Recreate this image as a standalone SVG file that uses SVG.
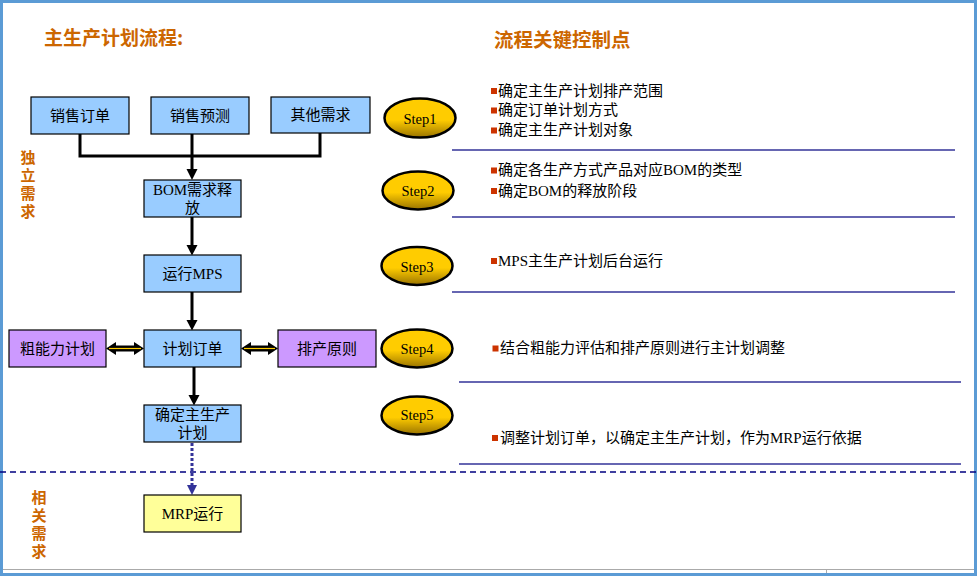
<svg xmlns="http://www.w3.org/2000/svg" width="978" height="576" viewBox="0 0 978 576">
<style>
.box{stroke:#000;stroke-width:1.2}
.blue{fill:#99CCFF}
.purple{fill:#CC99FF}
.yellow{fill:#FFFF99}
.t{font-family:"Liberation Serif","Noto Sans CJK SC",serif;font-size:15px;fill:#000;text-anchor:middle;dominant-baseline:central}
.title{font-family:"Noto Sans CJK SC",sans-serif;font-weight:bold;fill:#CC6600}
.side{font-family:"Noto Sans CJK SC",sans-serif;font-weight:bold;font-size:15px;fill:#CC6600;writing-mode:vertical-rl;letter-spacing:3px}
.step{font-family:"Liberation Serif",serif;font-size:14.5px;fill:#000;text-anchor:middle;dominant-baseline:central}
.bt{font-family:"Liberation Serif","Noto Sans CJK SC",serif;font-size:15px;fill:#000;dominant-baseline:central}
.bul{fill:#CC3300}
.sep{stroke:#333399;stroke-width:1.5}
.ell{fill:url(#gold);stroke:#000;stroke-width:2.5}
.ln{fill:none;stroke:#000;stroke-width:3}
</style>
<defs>
<linearGradient id="gold" x1="0" y1="0" x2="0" y2="1">
<stop offset="0" stop-color="#FFCC00"/>
<stop offset="0.55" stop-color="#FFCC00"/>
<stop offset="1" stop-color="#9A7400"/>
</linearGradient>
</defs>
<rect x="0" y="0" width="978" height="576" fill="#fff"/>
<line x1="0" y1="569.5" x2="975" y2="569.5" stroke="#AAAAAA" stroke-width="1"/>
<line x1="826.5" y1="569.5" x2="826.5" y2="574" stroke="#AAAAAA" stroke-width="1"/>
<rect x="1.5" y="1.5" width="974" height="573" fill="none" stroke="#5B9BD5" stroke-width="3"/>

<text class="title" x="44" y="45" font-size="19">主生产计划流程:</text>
<text class="title" x="494" y="47" font-size="19.5">流程关键控制点</text>

<g id="label-independent">
<text class="side" x="28" y="149.5">独立需求</text>
</g>
<g id="label-dependent">
<text class="side" x="39" y="489.5">相关需求</text>
</g>

<line x1="0" y1="472" x2="976" y2="472" stroke="#000080" stroke-width="1.5" stroke-dasharray="6,4"/>

<g id="connectors">
<polyline class="ln" points="80,134 80,156 320,156 320,133"/>
<path d="M297,126 L292.5,133 L302,133 Z" fill="#000"/>
<line class="ln" x1="192" y1="134" x2="192" y2="170"/>
<path d="M186.5,169 L197.5,169 L192,180 Z" fill="#000"/>
<line class="ln" x1="192" y1="217" x2="192" y2="246"/>
<path d="M186.5,245 L197.5,245 L192,255.5 Z" fill="#000"/>
<line class="ln" x1="192" y1="292" x2="192" y2="321"/>
<path d="M186.5,320 L197.5,320 L192,330.5 Z" fill="#000"/>
<line class="ln" x1="194" y1="367" x2="194" y2="396"/>
<path d="M188.5,395 L199.5,395 L194,405.5 Z" fill="#000"/>
<line x1="192" y1="443" x2="192" y2="486" stroke="#333399" stroke-width="3" stroke-dasharray="3,2"/>
<path d="M187,485 L197,485 L192,495 Z" fill="#333399"/>
<g id="dbl-left">
<line x1="114" y1="348.5" x2="136" y2="348.5" stroke="#000" stroke-width="6"/>
<path d="M106,348.5 L116,342 L116,355 Z" fill="#000"/>
<path d="M144,348.5 L134,342 L134,355 Z" fill="#000"/>
<line x1="109" y1="348.5" x2="141" y2="348.5" stroke="#FFCC00" stroke-width="1.2"/>
</g>
<g id="dbl-right">
<line x1="249" y1="348.5" x2="270" y2="348.5" stroke="#000" stroke-width="6"/>
<path d="M241,348.5 L251,342 L251,355 Z" fill="#000"/>
<path d="M278,348.5 L268,342 L268,355 Z" fill="#000"/>
<line x1="244" y1="348.5" x2="275" y2="348.5" stroke="#FFCC00" stroke-width="1.2"/>
</g>
</g>

<g id="n-xsdd"><rect class="box blue" x="31" y="97" width="98" height="37"/><text class="t" x="80" y="115.5">销售订单</text></g>
<g id="n-xsyc"><rect class="box blue" x="151" y="97" width="98" height="37"/><text class="t" x="200" y="115.5">销售预测</text></g>
<g id="n-qtxq"><rect class="box blue" x="271" y="97" width="99" height="36"/><text class="t" x="320.5" y="115">其他需求</text></g>
<g id="n-bom"><rect class="box blue" x="144" y="180" width="97" height="37"/><text class="t" x="192.5" y="190">BOM需求释</text><text class="t" x="192.5" y="207.5">放</text></g>
<g id="n-mps"><rect class="box blue" x="144" y="255" width="97" height="37"/><text class="t" x="192.5" y="274">运行MPS</text></g>
<g id="n-jhdd"><rect class="box blue" x="144" y="330" width="97" height="37"/><text class="t" x="192.5" y="348.5">计划订单</text></g>
<g id="n-cnl"><rect class="box purple" x="9" y="330" width="97" height="37"/><text class="t" x="57.5" y="348.5">粗能力计划</text></g>
<g id="n-pcyz"><rect class="box purple" x="278" y="330" width="98" height="37"/><text class="t" x="327" y="348.5">排产原则</text></g>
<g id="n-qdzsc"><rect class="box blue" x="144" y="405" width="97" height="37"/><text class="t" x="192.5" y="414.5">确定主生产</text><text class="t" x="192.5" y="432.5">计划</text></g>
<g id="n-mrp"><rect class="box yellow" x="144" y="495" width="97" height="37"/><text class="t" x="192.5" y="514">MRP运行</text></g>

<g id="step1"><ellipse class="ell" cx="420" cy="118" rx="35.5" ry="19.5"/><text class="step" x="420" y="119">Step1</text></g>
<g id="step2"><ellipse class="ell" cx="418" cy="190.5" rx="35.5" ry="19"/><text class="step" x="418" y="191">Step2</text></g>
<g id="step3"><ellipse class="ell" cx="417" cy="266" rx="35.5" ry="19"/><text class="step" x="417" y="266.5">Step3</text></g>
<g id="step4"><ellipse class="ell" cx="417" cy="348.5" rx="35.5" ry="19"/><text class="step" x="417" y="349">Step4</text></g>
<g id="step5"><ellipse class="ell" cx="417" cy="415.5" rx="35.5" ry="19"/><text class="step" x="417" y="415">Step5</text></g>

<g id="separators">
<line class="sep" x1="452" y1="150" x2="955" y2="150"/>
<line class="sep" x1="452" y1="217" x2="955" y2="217"/>
<line class="sep" x1="452" y1="292" x2="955" y2="292"/>
<line class="sep" x1="459" y1="382" x2="961" y2="382"/>
<line class="sep" x1="459" y1="464" x2="961" y2="464"/>
</g>

<g id="points">
<rect class="bul" x="491" y="88" width="6" height="6"/><text class="bt" x="498" y="90.5">确定主生产计划排产范围</text>
<rect class="bul" x="491" y="107.5" width="6" height="6"/><text class="bt" x="498" y="110">确定订单计划方式</text>
<rect class="bul" x="491" y="127.5" width="6" height="6"/><text class="bt" x="498" y="130">确定主生产计划对象</text>
<rect class="bul" x="491" y="167.5" width="6" height="6"/><text class="bt" x="498" y="170">确定各生产方式产品对应BOM的类型</text>
<rect class="bul" x="491" y="188" width="6" height="6"/><text class="bt" x="498" y="190.5">确定BOM的释放阶段</text>
<rect class="bul" x="491" y="258" width="6" height="6"/><text class="bt" x="498" y="260.5">MPS主生产计划后台运行</text>
<rect class="bul" x="492.5" y="345.5" width="6" height="6"/><text class="bt" x="500" y="348">结合粗能力评估和排产原则进行主计划调整</text>
<rect class="bul" x="492" y="435" width="6" height="6"/><text class="bt" x="500" y="438">调整计划订单，以确定主生产计划，作为MRP运行依据</text>
</g>
</svg>
